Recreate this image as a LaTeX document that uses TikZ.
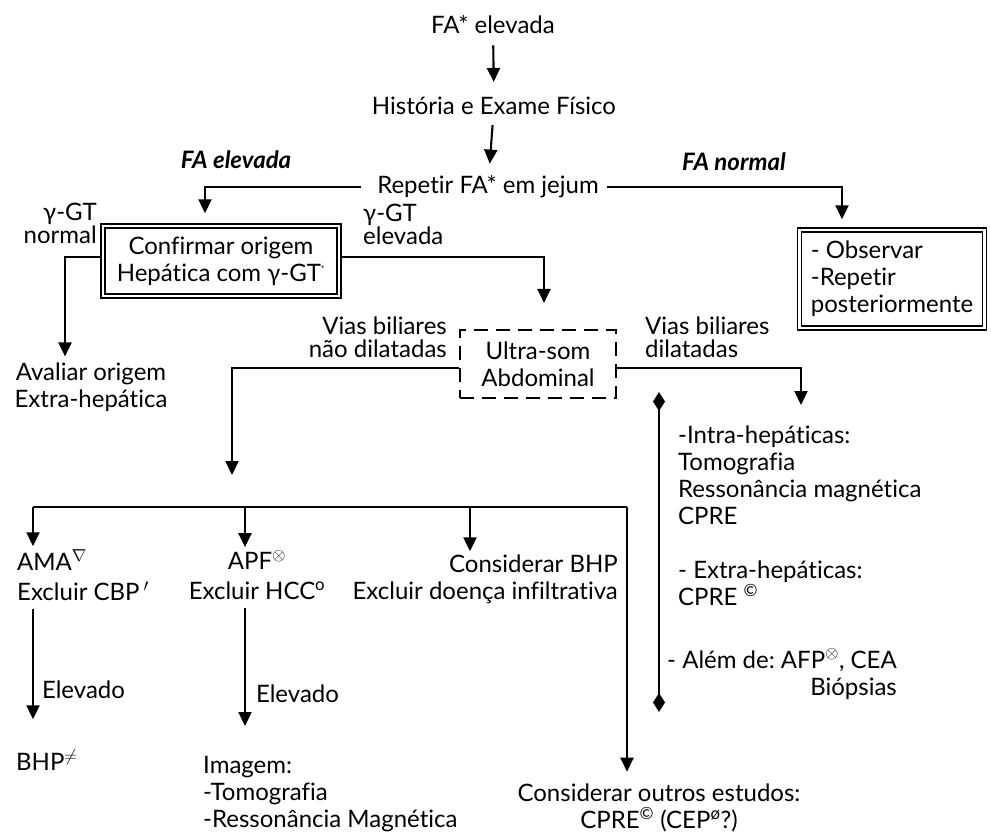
\documentclass[tikz,border=0pt]{standalone}
\usepackage{fontspec}
\setmainfont{Lato}[Ligatures=NoCommon]
\usepackage{amsmath}
\usepackage{amssymb}
\usetikzlibrary{arrows.meta, positioning, calc}
\frenchspacing

\tikzset{
  txt/.style={inner sep=0pt, align=center, font=\fontsize{24}{27}\selectfont},
  lbl/.style={txt, font=\fontsize{24}{27}\selectfont\bfseries\itshape},
  tight/.style={font=\fontsize{24}{23}\selectfont},
  dbox/.style={txt, draw, double, double distance=2.6pt, line width=1.4pt},
  usbox/.style={txt, draw, line width=2.1pt, dash pattern=on 14pt off 8pt},
  lnk/.style={line width=2.1pt},
  arr/.style={lnk, -{Triangle[width=13pt,length=14pt]}},
  dia/.style={lnk, {Diamond[width=12pt,length=19pt]}-{Diamond[width=12pt,length=19pt]}}
}

\begin{document}
\begin{tikzpicture}[x=1pt, y=-1pt]
\useasboundingbox (0,0) rectangle (991,833);

% top of the chart
\node[txt] (fa) at (493,25) {FA* elevada};
\node[txt] (hist) at (494,106) {História e Exame Físico};
\node[txt] (rep) at (488,187) {Repetir FA* em jejum};
\node[lbl] (elev) at (236,160) {FA elevada};
\node[lbl] (norm) at (734,162) {FA normal};

\draw[arr, shorten <=11pt, shorten >=15pt] (fa) -- (hist);
\draw[arr, shorten <=10pt, shorten >=12pt] (hist) -- (rep);

% boxes under the fasting test
\node[dbox, minimum width=236pt, minimum height=70pt] (conf) at (221,261)
  {Confirmar origem\\Hepática com γ-GT\textsuperscript{\fontsize{9}{9}\selectfont *}};
\node[dbox, minimum width=185pt, minimum height=98pt, align=left] (obs) at (892,279)
  {- Observar\\-Repetir\\posteriormente};

\draw[arr] ([xshift=-16pt]rep.west) -| ([xshift=-16pt,yshift=12pt]conf.north);
\draw[arr] ([xshift=8pt]rep.east) -| ([xshift=-50pt,yshift=10pt]obs.north);

\node[txt, tight, anchor=east, align=right] (gnorm) at (97,223) {γ-GT\\normal};
\node[txt, tight, anchor=west, align=left] (gelev) at (363,224) {γ-GT\\elevada};

\node[txt] (aval) at (91,387) {Avaliar origem\\Extra-hepática};
\draw[arr] ([xshift=-2.5pt,yshift=4pt]conf.west) -| ([xshift=-26pt,yshift=6pt]aval.north);

% ultrasound
\node[usbox, minimum width=156pt, minimum height=68pt] (us) at (538,364) {Ultra-som\\Abdominal};
\draw[arr] ([xshift=2.5pt,yshift=4pt]conf.east) -| ([xshift=6pt,yshift=26pt]us.north);

\node[txt, tight, anchor=east, align=right] (vnd) at (447,337) {Vias biliares\\não dilatadas};
\node[txt, tight, anchor=west, align=left] (vd) at (645,337) {Vias biliares\\dilatadas};

\coordinate (m1) at (232,475);
\coordinate (m2) at (801,405);
\draw[arr] ([yshift=-4pt]us.west) -| (m1);
\draw[arr] ([yshift=-4pt]us.east) -| (m2);

% non dilated branch
\coordinate (b1) at (33,507);
\coordinate (b2) at (245,507);
\coordinate (b3) at (470,507);
\coordinate (b4) at (627,507);
\draw[lnk] (b1) -- (b4);

\node[txt, anchor=west, align=left] (ama) at (17,575) {AMA$^{\nabla}$\\[3pt]Excluir CBP\,$^{\prime}$};
\node[txt] (apf) at (257,575) {APF$^{\otimes}$\\[3pt]Excluir HCC\textsuperscript{o}};
\node[txt, anchor=east, align=right] (cons) at (618,579) {Considerar BHP\\Excluir doença infiltrativa};
\node[txt, anchor=west] (bhp) at (16,760) {BHP$^{\neq}$};
\node[txt, anchor=west, align=left] (img) at (203,794) {Imagem:\\-Tomografia\\-Ressonância Magnética};
\node[txt] (outros) at (659,808) {Considerar outros estudos:\\CPRE\textsuperscript{©} (CEP\textsuperscript{ø}?)};

\draw[arr, shorten >=3pt] (b1) -- (b1 |- ama.north);
\draw[arr, shorten >=3pt] (b2) -- (b2 |- apf.north);
\draw[arr, shorten >=3pt] (b3) -- (b3 |- cons.north);
\draw[arr, shorten >=12pt] (b4) -- (b4 |- outros.north);

\draw[arr, shorten <=8pt, shorten >=30pt] (b1 |- ama.south) -- (b1 |- bhp.north)
  node[txt, pos=0.6, anchor=west, xshift=8pt] {Elevado};
\draw[arr, shorten <=8pt, shorten >=30pt] (b2 |- apf.south) -- (b2 |- img.north)
  node[txt, pos=0.6, anchor=west, xshift=10pt] {Elevado};

% dilated branch
\node[txt, anchor=west, align=left] (intra) at (678,475)
  {-Intra-hepáticas:\\Tomografia\\Ressonância magnética\\CPRE};
\node[txt, anchor=west, align=left] (extra) at (678,583) {- Extra-hepáticas:\\CPRE \textsuperscript{©}};
\node[txt, anchor=west, align=right] (alem) at (667,674) {- Além de: AFP$^{\otimes}$, CEA\\Biópsias};

\coordinate (d1) at (659,392);
\coordinate (d2) at (659,712);
\draw[dia] (d1) -- (d2);
\end{tikzpicture}
\end{document}
